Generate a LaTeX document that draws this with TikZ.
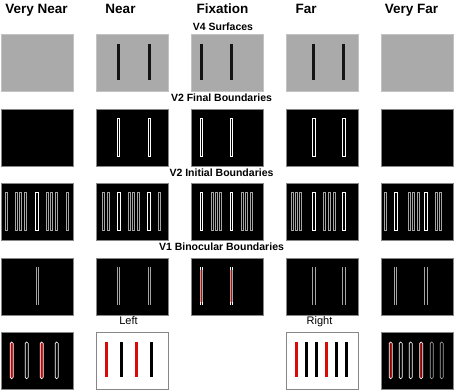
\documentclass[tikz,border=0pt]{standalone}
\usepackage{fontspec}
\setmainfont{Liberation Sans}
\definecolor{surfgray}{RGB}{170,170,170}
\definecolor{framegray}{RGB}{135,135,135}
\definecolor{faintgray}{RGB}{165,165,165}
\definecolor{medred}{RGB}{215,10,10}
\definecolor{deepred}{RGB}{140,0,0}
\usetikzlibrary{positioning}
\tikzset{
	panel/.style={rectangle, draw=framegray, line width=0.8pt, minimum width=72pt, minimum height=57pt, inner sep=0pt, anchor=north west},
	surface/.style={panel, fill=surfgray, draw=surfgray!70!white},
	boundary/.style={panel, fill=black},
	eyeview/.style={panel, fill=white, draw=framegray},
	heading/.style={font=\bfseries\fontsize{13.5}{15}\selectfont, anchor=base},
	layer/.style={font=\bfseries\fontsize{10.5}{12}\selectfont, anchor=base},
	eyelabel/.style={font=\fontsize{11}{12}\selectfont, anchor=base},
	surfbar/.style={line width=3pt, draw=black!92},
	edge/.style={line width=0.6pt, draw=white},
	faintedge/.style={line width=0.55pt, draw=faintgray},
	pairline/.style={line width=0.6pt, draw=faintgray},
	capsule/.style={line width=0.6pt, draw=white, rounded corners=1.4pt},
}
% #1 panel, #2 offset from left edge, #3 style
\newcommand{\vbar}[3]{\draw[#3] ([xshift=#2pt, yshift=-9.5pt]#1.north west) -- ++(0,36);}
% #1 panel, #2 offset, #3 width, #4 style
\newcommand{\hollowbar}[4]{\draw[#4] ([xshift=#2pt, yshift=-9.5pt]#1.north west) ++(-#3/2,0) rectangle ++(#3,38);}
% #1 panel, #2 offset
\newcommand{\pairbar}[2]{\draw[pairline] ([xshift=#2pt, yshift=-9.5pt]#1.north west) ++(-1.2,0) -- ++(0,38) ++(2.4,-38) -- ++(0,38);}
% #1 panel, #2 offset, #3 fill
\newcommand{\capbar}[3]{\draw[capsule, fill=#3] ([xshift=#2pt, yshift=-10pt]#1.north west) ++(-1.5,0) rectangle ++(3,36.7);}

\begin{document}
\begin{tikzpicture}[x=1pt, y=-1pt]
	\useasboundingbox (0,0) rectangle (454,391);
	% column headings
	\node[heading] (hvnear) at (36.5,13) {Very Near};
	\node[heading] (hnear) at (120.5,13) {Near};
	\node[heading] (hfix) at (222.5,13) {Fixation};
	\node[heading] (hfar) at (306,13) {Far};
	\node[heading] (hvfar) at (411.5,13) {Very Far};
	% layer names
	\node[layer] (lv4) at (223,30) {V4 Surfaces};
	\node[layer] (lfinal) at (221.5,101.5) {V2 Final Boundaries};
	\node[layer] (linit) at (221.5,176) {V2 Initial Boundaries};
	\node[layer] (lv1) at (221.5,250.5) {V1 Binocular Boundaries};
	\node[eyelabel] (lleft) at (128.5,324.5) {Left};
	\node[eyelabel] (lright) at (319.5,324.5) {Right};
	% panels
	\foreach \c/\x in {1/1, 2/96, 3/190.5, 4/285.5, 5/380.5} {
		\node[surface] (s\c) at (\x,34) {};
		\node[boundary] (f\c) at (\x,108.5) {};
		\node[boundary] (i\c) at (\x,183) {};
		\node[boundary] (b\c) at (\x,257.5) {};
	}
	\node[boundary] (m1) at (1,332) {};
	\node[eyeview] (left) at (96,332) {};
	\node[eyeview] (right) at (285.5,332) {};
	\node[boundary] (m5) at (380.5,332) {};
	% V4 surfaces
	\foreach \p/\d in {s2/22.5, s2/53, s3/10.7, s3/40.7, s4/28.4, s4/58.4}
		\vbar{\p}{\d}{surfbar};
	% V2 final boundaries
	\foreach \p/\d in {f2/22.5, f2/53, f3/10.7, f3/40.7, f4/28.4, f4/58.4}
		\hollowbar{\p}{\d}{2.4}{edge};
	% V2 initial boundaries
	\foreach \d in {5, 15, 19.7, 24.3, 46, 50.7, 55.3, 66.3}
		\hollowbar{i1}{\d}{2.1}{faintedge};
	\foreach \d in {7.3, 12.3, 33, 37.3, 42.3, 63}
		\hollowbar{i2}{\d}{2.1}{faintedge};
	\foreach \d in {21.4, 25.7, 30, 51.4, 55.7, 60.4}
		\hollowbar{i3}{\d}{2.1}{faintedge};
	\foreach \d in {6.4, 10.7, 15, 39, 43.7, 48.4}
		\hollowbar{i4}{\d}{2.1}{faintedge};
	\foreach \d in {4.7, 28.7, 33, 37.4, 55.4, 59.7}
		\hollowbar{i5}{\d}{2.1}{faintedge};
	\foreach \p/\d in {i1/35.7, i2/22.5, i2/53, i3/10.7, i3/40.7, i4/28.4, i4/58.4, i5/15.4, i5/45.4}
		\hollowbar{\p}{\d}{2.6}{edge};
	% V1 binocular boundaries
	\foreach \d in {10.7, 40.7} {
		\fill[medred!90!black] ([xshift=\d pt, yshift=-12pt]b3.north west) ++(-1.2,0) rectangle ++(2.4,33);
	}
	\foreach \p/\d in {b1/36, b2/22.5, b2/53, b3/10.7, b3/40.7, b4/28.4, b4/58.4, b5/15, b5/45.4}
		\pairbar{\p}{\d};
	\foreach \d in {10.7, 40.7} {
		\draw[edge] ([xshift=\d pt, yshift=-9.5pt]b3.north west) ++(-1.2,0) -- ++(0,3) ++(2.4,-3) -- ++(0,3);
		\draw[edge] ([xshift=\d pt, yshift=-44.5pt]b3.north west) ++(-1.2,0) -- ++(0,3) ++(2.4,-3) -- ++(0,3);
	}
	% monocular views
	\foreach \d/\col in {10.7/medred!90!black, 25.7/black, 40.7/medred!90!black, 55.7/black}
		\capbar{m1}{\d}{\col};
	\foreach \d/\col in {10.7/medred, 25.7/black, 40.7/medred, 55.7/black}
		\draw[line width=3pt, draw=\col] ([xshift=\d pt, yshift=-10pt]left.north west) -- ++(0,35.3);
	\foreach \d/\col in {10.7/medred, 20.7/black, 30.7/black, 40.7/medred, 50.7/black, 60.7/black}
		\draw[line width=3pt, draw=\col] ([xshift=\d pt, yshift=-10pt]right.north west) -- ++(0,35.3);
	\foreach \d/\col in {10.2/deepred, 20.2/black, 30.2/black, 40.7/deepred}
		\capbar{m5}{\d}{\col};
	\foreach \d in {51.2, 61.2}
		\draw[capsule, draw=faintgray, fill=black] ([xshift=\d pt, yshift=-10pt]m5.north west) ++(-1.5,0) rectangle ++(3,36.7);
\end{tikzpicture}
\end{document}
